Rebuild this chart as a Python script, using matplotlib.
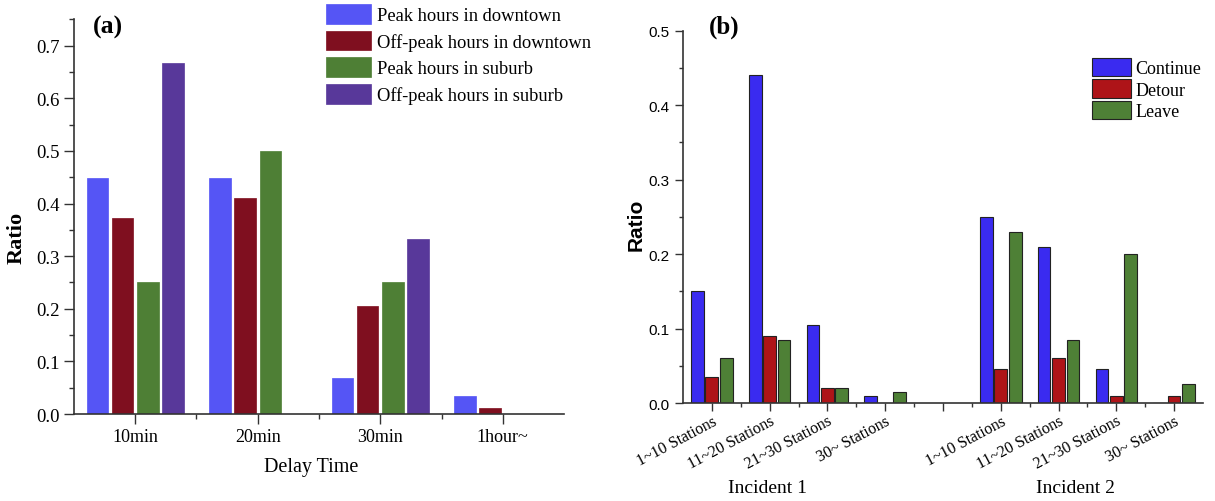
import matplotlib
matplotlib.use('Agg')
import matplotlib.pyplot as plt
import numpy as np
from matplotlib.ticker import MultipleLocator, FixedLocator


# Panel (a) data.
delay_labels = ['10min', '20min', '30min', '1hour~']
peak_downtown = [0.448, 0.448, 0.069, 0.034]
offpeak_downtown = [0.373, 0.410, 0.205, 0.011]
peak_suburb = [0.25, 0.50, 0.25, 0.0]
offpeak_suburb = [0.667, 0.0, 0.333, 0.0]
a_names = ['Peak hours in downtown', 'Off-peak hours in downtown',
           'Peak hours in suburb', 'Off-peak hours in suburb']

# Panel (b) data.
station_labels = ['1~10 Stations', '11~20 Stations', '21~30 Stations', '30~ Stations']
inc1_continue = [0.15, 0.44, 0.105, 0.01]
inc1_detour = [0.035, 0.09, 0.02, 0.0]
inc1_leave = [0.06, 0.085, 0.02, 0.015]
inc2_continue = [0.25, 0.21, 0.045, 0.0]
inc2_detour = [0.045, 0.06, 0.01, 0.01]
inc2_leave = [0.23, 0.085, 0.20, 0.025]
b_names = ['Continue', 'Detour', 'Leave']

SERIF = 'Liberation Serif'
SANS = 'Liberation Sans'
AXCOL = '#333333'

fig = plt.figure(figsize=(12.15, 5.02), dpi=100)

# ---- panel (a) ----
ax = fig.add_axes([0.0609, 0.1733, 0.4033, 0.7859])
a_colors = ['#5555F5', '#7F0F1F', '#4E7F35', '#58389A']
a_series = [peak_downtown, offpeak_downtown, peak_suburb, offpeak_suburb]
x = np.arange(1, len(delay_labels) + 1)
for i, (vals, col, name) in enumerate(zip(a_series, a_colors, a_names)):
    ax.bar(x + (i - 1.5) * 0.205, vals, width=0.175, color=col,
           edgecolor=col, linewidth=0.5, label=name)
ax.set_xlim(0.5, 4.5)
ax.set_ylim(0, 0.75)
ax.set_xticks(x)
ax.set_xticklabels(delay_labels, fontfamily=SERIF, fontsize=13)
ax.xaxis.set_minor_locator(FixedLocator([1.5, 2.5, 3.5]))
ax.yaxis.set_major_locator(MultipleLocator(0.1))
ax.yaxis.set_minor_locator(MultipleLocator(0.05))
ax.set_yticklabels(['%.1f' % v for v in ax.get_yticks()],
                   fontfamily=SERIF, fontsize=13.5)
ax.tick_params(which='major', direction='out', length=7, color=AXCOL, width=1)
ax.tick_params(which='minor', direction='out', length=3.5, color=AXCOL, width=1)
ax.tick_params(axis='x', pad=3)
for s in ['top', 'right']:
    ax.spines[s].set_visible(False)
for s in ['left', 'bottom']:
    ax.spines[s].set_color(AXCOL)
    ax.spines[s].set_linewidth(1.2)
ax.set_xlabel('Delay Time', fontfamily=SERIF, fontsize=14.5)
ax.xaxis.set_label_coords(0.485, -0.11)
ax.set_ylabel('Ratio', fontfamily=SERIF, fontsize=16, fontweight='bold')
ax.yaxis.set_label_coords(-0.097, 0.45)
ax.legend(loc='upper left', bbox_to_anchor=(0.2606, 1.008),
          bbox_transform=fig.transFigure, frameon=False, borderpad=0.0,
          prop={'family': SERIF, 'size': 13.3}, handlelength=2.45,
          handleheight=1.25, handletextpad=0.3, labelspacing=0.36)
fig.text(0.089, 0.945, '(a)', fontfamily=SERIF, fontweight='bold',
         fontsize=18.5, ha='center', va='center')

# ---- panel (b) ----
bx = fig.add_axes([0.5621, 0.1952, 0.4280, 0.7417])
b_colors = ['#3A2BF0', '#AE1418', '#4E8036']
pos = np.concatenate([np.arange(4), np.arange(5, 9)])
b_series = [inc1_continue + inc2_continue,
            inc1_detour + inc2_detour,
            inc1_leave + inc2_leave]
for i, (vals, col, name) in enumerate(zip(b_series, b_colors, b_names)):
    bx.bar(pos + (i - 1) * 0.25, vals, width=0.22, color=col,
           edgecolor='#222222', linewidth=0.8, label=name)
bx.set_xlim(-0.5, 8.5)
bx.set_ylim(0, 0.5)
bx.set_xticks(np.arange(9))
bx.set_xticklabels(station_labels + [''] + station_labels,
                   fontfamily=SERIF, fontsize=11.5, rotation=28,
                   ha='right', va='top', rotation_mode='anchor')
bx.xaxis.set_minor_locator(FixedLocator(np.arange(0.5, 8, 1.0)))
bx.yaxis.set_major_locator(MultipleLocator(0.1))
bx.yaxis.set_minor_locator(MultipleLocator(0.05))
bx.set_yticklabels(['%.1f' % v for v in bx.get_yticks()],
                   fontfamily=SANS, fontsize=11)
bx.tick_params(which='major', direction='out', length=6, color=AXCOL, width=1)
bx.tick_params(which='minor', direction='out', length=3, color=AXCOL, width=1)
bx.tick_params(axis='x', which='major', pad=1)
for s in ['top', 'right']:
    bx.spines[s].set_visible(False)
for s in ['left', 'bottom']:
    bx.spines[s].set_color(AXCOL)
    bx.spines[s].set_linewidth(1.2)
bx.set_ylabel('Ratio', fontfamily=SANS, fontsize=15, fontweight='bold')
bx.yaxis.set_label_coords(-0.071, 0.48)
tr = bx.get_xaxis_transform()
bx.text(0.97, -0.228, 'Incident 1', transform=tr, fontfamily=SERIF,
        fontsize=14, ha='center', va='center')
bx.text(6.3, -0.228, 'Incident 2', transform=tr, fontfamily=SERIF,
        fontsize=14, ha='center', va='center')
bx.legend(loc='upper left', bbox_to_anchor=(0.8896, 0.905),
          bbox_transform=fig.transFigure, frameon=False, borderpad=0.1,
          prop={'family': SERIF, 'size': 13}, handlelength=2.2,
          handleheight=1.2, handletextpad=0.2, labelspacing=0.13)
fig.text(0.596, 0.945, '(b)', fontfamily=SERIF, fontweight='bold',
         fontsize=18, ha='center', va='center')

fig.savefig('out.png', dpi=100)
